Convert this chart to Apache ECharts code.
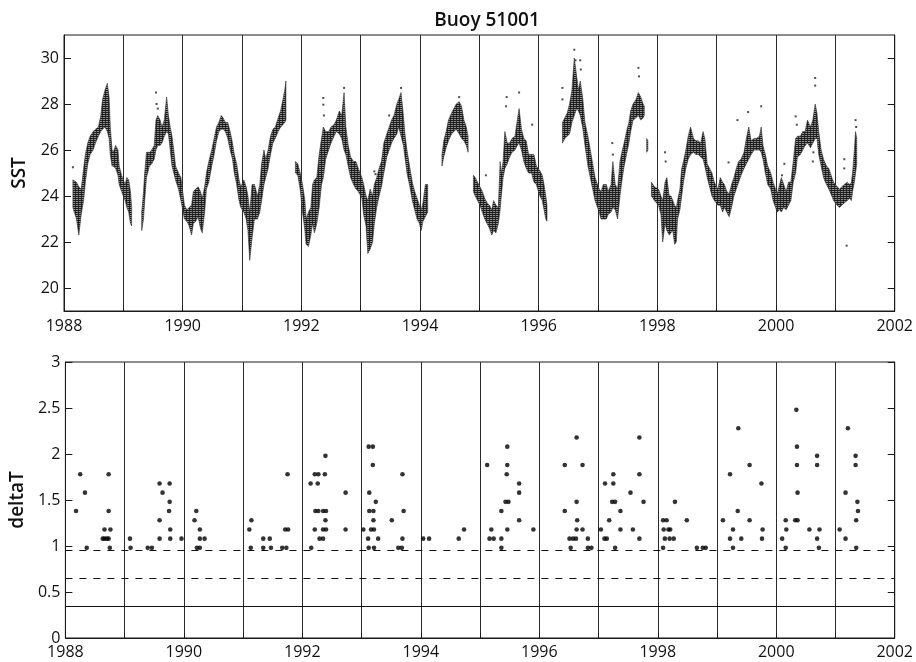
<!DOCTYPE html>
<html>
<head>
<meta charset="utf-8">
<script src="https://cdn.jsdelivr.net/npm/echarts@6/dist/echarts.min.js"></script>
<style>html,body{margin:0;padding:0;background:#fff}#c{width:916px;height:662px}</style>
</head>
<body>
<div id="c"></div>
<script>
// ---------- DATA ----------
// SST: envelope of the dense hourly record (year, low, high); null separates data gaps
const sstYear = [
1988.15,1988.21,1988.25,1988.29,1988.33,1988.36,1988.40,1988.44,1988.49,1988.53,1988.58,1988.62,1988.65,1988.69,1988.73,1988.76,1988.78,1988.81,1988.83,1988.87,1988.91,1988.93,1988.97,1989.03,1989.06,1989.09,1989.12,1989.14,null,
1989.31,1989.34,1989.36,1989.39,1989.44,1989.48,1989.52,1989.55,1989.58,1989.62,1989.65,1989.69,1989.73,1989.76,1989.79,1989.82,1989.85,1989.88,1989.93,1989.97,1990.03,1990.07,1990.11,1990.15,1990.18,1990.22,1990.26,1990.30,1990.33,1990.37,1990.40,1990.44,1990.49,1990.53,1990.57,1990.61,1990.65,1990.68,1990.72,1990.76,1990.80,1990.84,1990.87,1990.91,1990.95,1990.98,1991.03,1991.07,1991.10,1991.13,1991.17,1991.21,1991.26,1991.30,1991.33,1991.37,1991.40,1991.44,1991.48,1991.52,1991.56,1991.61,1991.65,1991.69,1991.72,1991.74,null,
1991.90,1991.94,1991.98,1992.02,1992.06,1992.08,1992.12,1992.16,1992.19,1992.22,1992.26,1992.30,1992.34,1992.37,1992.41,1992.46,1992.50,1992.55,1992.59,1992.64,1992.68,1992.72,1992.75,1992.79,1992.83,1992.88,1992.92,1992.96,1993.02,1993.05,1993.09,1993.12,1993.16,1993.20,1993.23,1993.27,1993.31,1993.35,1993.39,1993.44,1993.48,1993.52,1993.56,1993.61,1993.64,1993.68,1993.72,1993.75,1993.78,1993.83,1993.87,1993.91,1993.95,1993.99,1994.02,1994.05,1994.09,1994.13,null,
1994.37,1994.40,1994.44,1994.48,1994.53,1994.57,1994.61,1994.66,1994.70,1994.74,1994.78,1994.81,null,
1994.90,1994.93,1994.97,1995.01,1995.05,1995.09,1995.13,1995.17,1995.21,1995.24,1995.28,1995.32,1995.35,1995.37,1995.40,1995.43,1995.47,1995.51,1995.55,1995.60,1995.64,1995.67,1995.71,1995.75,1995.79,1995.83,1995.88,1995.92,1995.96,1996.02,1996.06,1996.09,1996.12,1996.14,null,
1996.40,1996.44,1996.48,1996.52,1996.56,1996.60,1996.64,1996.67,1996.70,1996.74,1996.78,1996.83,1996.87,1996.91,1996.95,1997.02,1997.05,1997.09,1997.14,1997.17,1997.22,1997.25,1997.29,1997.33,1997.37,1997.41,1997.44,1997.48,1997.52,1997.55,1997.59,1997.64,1997.68,1997.72,1997.76,1997.78,null,
1997.82,1997.84,null,
1997.90,1997.95,1998.02,1998.06,1998.09,1998.13,1998.16,1998.20,1998.23,1998.26,1998.29,1998.32,1998.34,1998.38,1998.41,1998.44,1998.48,1998.52,1998.56,1998.61,1998.65,1998.69,1998.73,1998.77,1998.80,1998.84,1998.88,1998.92,1998.96,1999.02,1999.06,1999.10,1999.13,1999.17,1999.21,1999.25,1999.29,1999.33,1999.37,1999.41,1999.46,1999.50,1999.54,1999.58,1999.63,1999.67,1999.72,1999.75,1999.78,1999.82,1999.86,1999.91,1999.95,2000.02,2000.06,2000.09,2000.13,2000.17,2000.21,2000.25,2000.29,2000.33,2000.36,2000.41,2000.45,2000.49,2000.53,2000.58,2000.62,2000.66,2000.69,2000.72,2000.76,2000.80,2000.85,2000.89,2000.94,2000.97,2001.03,2001.07,2001.11,2001.15,2001.20,2001.24,2001.27,2001.29,2001.32,2001.34,2001.36
];
const sstLow = [
23.5,23.0,22.3,23.2,23.8,24.6,25.4,25.8,26.0,26.3,26.6,26.8,26.9,27.0,26.8,26.5,25.8,25.3,25.3,25.2,24.9,24.5,24.2,23.8,23.5,23.3,22.8,22.7,null,
22.5,23.0,23.8,24.8,25.3,25.4,25.6,26.0,26.2,26.2,26.3,26.6,26.8,26.7,26.0,25.3,25.0,24.7,24.3,23.8,23.0,22.9,22.7,22.3,22.8,22.9,23.1,22.6,22.4,23.3,24.3,24.6,25.3,25.8,26.4,26.8,26.9,26.9,26.8,26.5,26.0,25.6,25.0,24.5,23.8,23.5,23.3,23.0,22.5,21.2,22.2,23.0,23.0,23.3,23.8,24.5,24.8,25.2,25.8,26.3,26.5,26.8,27.0,27.1,27.2,27.3,null,
25.0,24.9,24.3,23.3,22.5,21.9,21.8,22.3,22.8,22.4,22.8,23.5,24.5,24.8,25.6,26.0,26.3,26.6,26.8,26.7,26.5,26.0,25.8,25.3,24.8,24.5,24.3,24.2,23.9,23.2,22.7,21.5,21.7,22.0,22.8,23.5,24.0,24.4,25.0,25.7,26.0,26.3,26.5,26.7,27.0,26.6,26.2,25.6,25.0,24.4,23.8,23.4,23.0,22.8,22.5,22.9,23.1,23.3,null,
25.3,25.7,26.1,26.4,26.7,26.8,26.9,26.7,26.5,26.4,26.2,25.9,null,
24.2,24.0,23.8,23.6,23.3,23.0,22.8,22.6,22.3,22.5,22.4,22.8,23.4,24.0,24.8,25.2,25.4,25.7,25.9,26.0,26.2,26.3,26.0,25.5,25.2,25.0,25.0,24.6,24.5,24.0,23.8,23.4,23.0,22.9,null,
26.3,26.5,26.6,26.7,27.2,27.5,27.8,27.7,27.5,27.0,26.2,25.3,24.8,24.3,23.8,23.3,23.0,23.0,23.0,23.2,23.3,23.5,23.4,23.0,24.0,24.8,25.3,25.8,26.3,26.8,27.3,27.4,27.5,27.3,27.4,27.5,null,
25.9,26.0,null,
24.0,23.8,23.6,23.2,22.0,22.8,22.5,22.3,22.4,22.5,21.9,22.0,23.0,23.4,24.0,24.6,25.2,25.6,25.8,25.9,25.8,25.8,25.7,25.6,25.3,24.8,24.4,24.0,23.8,23.6,23.6,23.3,23.5,23.3,23.1,23.5,24.0,24.3,24.6,24.9,25.2,25.4,25.6,25.8,26.0,26.0,26.0,25.9,25.6,25.0,24.5,24.3,23.8,23.3,23.4,23.3,23.5,23.4,23.6,23.8,24.6,25.0,25.7,25.8,26.0,26.2,26.3,26.1,26.3,26.5,26.5,25.8,25.3,24.8,24.5,24.3,24.0,23.8,23.6,23.5,23.6,23.7,23.8,23.9,23.8,24.2,24.6,25.0,25.4
];
const sstHigh = [
24.7,24.6,24.4,24.3,25.2,25.8,26.3,26.6,26.8,26.9,27.0,27.5,28.2,28.6,28.9,28.3,27.0,26.0,25.9,26.2,26.0,25.3,24.9,24.5,24.8,24.7,24.2,23.5,null,
23.3,24.2,25.0,25.9,25.9,26.0,26.2,27.3,27.5,27.3,27.0,27.3,28.3,27.5,27.0,26.6,26.0,25.3,25.0,24.8,23.6,23.4,23.5,23.6,24.2,24.3,24.4,24.2,23.9,24.4,25.0,25.5,26.0,26.5,27.0,27.2,27.5,27.4,27.2,27.2,26.8,26.3,25.8,25.4,24.7,24.4,24.7,24.4,24.0,23.3,24.5,24.5,24.0,24.5,25.4,26.0,25.6,26.0,26.6,26.9,27.0,27.4,27.7,28.2,28.6,29.0,null,
25.5,25.4,25.0,24.5,23.8,23.0,23.3,23.5,24.5,24.7,24.8,25.8,26.5,27.0,26.8,26.8,27.0,27.1,27.3,27.7,27.5,28.5,27.0,26.2,25.7,25.5,25.5,25.2,24.8,24.5,24.0,23.8,24.3,24.0,24.5,24.8,25.2,25.5,26.3,26.7,27.0,27.3,27.5,28.0,28.2,28.5,27.5,26.6,26.0,25.2,24.6,24.2,23.9,23.6,23.4,23.7,24.5,24.5,null,
25.8,26.4,26.8,27.3,27.6,27.8,28.0,28.1,27.9,27.3,27.0,26.6,null,
24.9,24.8,24.6,24.4,24.2,23.9,23.7,23.6,23.4,23.8,23.6,23.5,25.5,25.0,25.5,26.8,26.3,26.3,26.5,26.6,27.3,27.8,26.9,26.5,26.4,25.8,25.8,25.8,25.3,25.1,24.9,24.5,24.0,23.6,null,
27.2,27.4,27.6,28.0,28.6,30.0,29.2,28.6,29.0,28.3,27.2,26.6,26.0,25.4,24.8,24.3,24.2,24.5,24.5,24.2,24.5,25.5,24.5,24.3,25.5,26.0,26.3,26.8,27.2,27.7,28.0,28.2,28.5,28.3,28.0,27.9,null,
26.5,26.4,null,
24.6,24.4,24.3,24.0,23.8,24.6,24.8,24.0,24.0,23.8,23.6,23.5,23.8,24.3,25.2,25.5,26.0,26.6,27.0,26.5,26.4,26.4,26.3,26.8,26.5,25.4,25.2,25.0,24.6,24.3,24.8,24.6,24.5,24.2,24.1,24.5,24.8,25.2,25.5,25.6,25.9,26.5,27.0,26.4,26.5,26.5,26.6,27.0,26.2,25.8,25.3,25.0,24.6,24.1,24.5,24.8,24.5,24.2,24.6,24.6,25.5,26.5,26.6,26.6,26.8,26.8,27.3,27.0,27.3,28.0,27.6,26.8,26.0,25.6,25.3,25.2,24.8,24.6,24.4,24.3,24.4,24.5,24.6,24.5,24.6,25.0,26.0,26.8,26.5
];
// isolated SST readings outside the main band
const outYear = [1988.15,1989.55,1989.56,1989.58,1992.37,1992.37,1992.38,1992.72,1993.23,1993.25,1993.48,1993.68,1994.66,1995.11,1995.46,1995.45,1995.67,1995.89,1996.40,1996.40,1996.60,1996.62,1996.70,1996.71,1997.24,1997.25,1997.68,1997.69,1998.13,1998.14,1999.20,1999.35,1999.53,1999.75,2000.14,2000.10,2000.33,2000.35,2000.62,2000.63,2000.66,2000.66,2001.15,2001.15,2001.19,2001.34,2001.35];
const outValue = [25.25,28.5,28.0,27.8,28.26,27.97,27.5,28.7,25.07,24.95,27.5,28.7,28.3,24.9,28.3,27.9,28.5,27.1,28.7,28.2,30.36,29.9,29.9,29.5,26.3,25.8,29.57,29.2,25.9,25.5,25.46,27.3,27.65,27.9,25.4,24.9,27.46,27.1,25.5,25.9,29.13,28.8,25.6,25.2,21.84,27.3,27.0];

// deltaT events
const dtYear = [
1988.18,1988.25,1988.33,1988.36,1988.63,1988.66,1988.70,1988.73,1988.66,1988.76,1988.73,1988.73,1988.75,
1989.09,1989.10,1989.39,1989.46,1989.59,1989.59,1989.59,1989.64,1989.76,1989.76,1989.75,1989.77,1989.77,1989.96,
1990.18,1990.21,1990.27,1990.27,1990.35,1990.22,1990.27,
1991.105,1991.14,1991.13,1991.34,1991.45,1991.34,1991.47,1991.66,1991.73,1991.71,1991.76,1991.75,
1992.15,1992.14,1992.21,1992.27,1992.26,1992.39,1992.38,1992.22,1992.27,1992.35,1992.40,1992.39,1992.21,1992.35,1992.40,1992.29,1992.35,1992.73,1992.73,
1993.03,1993.12,1993.19,1993.19,1993.13,1993.24,1993.13,1993.20,1993.20,1993.16,1993.21,1993.11,1993.28,1993.12,1993.21,1993.51,1993.69,1993.71,1993.69,1993.62,1993.68,
1994.04,1994.14,1994.64,1994.73,
1995.12,1995.19,1995.16,1995.23,1995.36,1995.36,1995.36,1995.46,1995.46,1995.45,1995.43,1995.48,1995.46,1995.66,1995.66,1995.66,1995.90,
1996.43,1996.43,1996.51,1996.57,1996.62,1996.53,1996.63,1996.63,1996.64,1996.63,1996.73,1996.73,1996.82,1996.82,1996.88,
1997.04,1997.10,1997.14,1997.11,1997.18,1997.25,1997.25,1997.23,1997.28,1997.28,1997.37,1997.37,1997.54,1997.58,1997.69,1997.69,1997.69,1997.76,
1998.09,1998.15,1998.10,1998.18,1998.21,1998.12,1998.20,1998.27,1998.09,1998.29,1998.49,1998.66,1998.76,1998.81,
1999.10,1999.22,1999.36,1999.35,1999.27,1999.22,1999.41,1999.27,1999.55,1999.55,1999.75,1999.77,1999.76,
2000.10,2000.16,2000.17,2000.16,2000.34,2000.35,2000.35,2000.36,2000.32,2000.36,2000.56,2000.69,2000.69,2000.69,2000.73,2000.72,
2001.07,2001.21,2001.17,2001.17,2001.34,2001.34,2001.37,2001.38,2001.35,2001.35
];
const dtValue = [
1.38,1.78,1.58,0.98,1.08,1.08,1.08,1.08,1.18,1.18,1.78,1.38,0.98,
1.08,0.98,0.98,0.98,1.68,1.28,1.08,1.58,1.68,1.48,1.38,1.18,1.08,1.08,
1.28,1.38,1.18,1.08,1.08,0.98,0.98,
1.18,1.28,0.98,1.08,1.08,0.98,0.98,0.98,0.98,1.18,1.18,1.78,
0.98,1.68,1.78,1.78,1.68,1.98,1.78,1.38,1.38,1.38,1.38,1.28,1.18,1.18,1.18,1.08,1.08,1.58,1.18,
1.18,2.08,2.08,1.88,1.58,1.48,1.38,1.38,1.28,1.18,1.18,1.08,1.08,0.98,0.98,1.28,1.78,1.38,1.08,0.98,0.98,
1.08,1.08,1.08,1.18,
1.88,1.18,1.08,1.08,1.38,1.08,0.98,2.08,1.88,1.78,1.48,1.48,1.18,1.68,1.58,1.28,1.18,
1.88,1.38,1.08,1.08,1.08,0.98,2.18,1.48,1.28,1.18,1.88,1.18,1.08,0.98,0.98,
1.18,1.08,1.08,1.68,1.28,1.78,1.68,1.48,1.48,0.98,1.38,1.18,1.58,1.18,2.18,1.78,1.08,1.48,
1.28,1.28,1.18,1.18,1.18,1.08,1.08,1.08,0.98,1.48,1.28,0.98,0.98,0.98,
1.28,1.78,2.28,1.38,1.18,1.08,1.08,0.98,1.88,1.28,1.68,1.18,1.08,
1.08,1.28,1.18,0.98,2.48,2.08,1.88,1.58,1.28,1.28,1.18,1.98,1.88,1.08,1.18,0.98,
1.18,2.28,1.58,1.08,1.98,1.88,1.48,1.38,1.28,0.98
];
// horizontal reference levels in the deltaT panel (first two dashed, last solid)
const dtLevels = [0.95, 0.65, 0.35];

// tick values
const sstTicks = [20, 22, 24, 26, 28, 30];

// ---------- BUILD ----------
const segs = [];
let start = null;
for (let i = 0; i <= sstYear.length; i++) {
  const v = i < sstYear.length ? sstYear[i] : null;
  if (v !== null && start === null) start = i;
  if (v === null && start !== null) { segs.push([start, i - 1]); start = null; }
}
const segData = segs.map((s, k) => {
  let lo = Infinity, hi = -Infinity;
  for (let i = s[0]; i <= s[1]; i++) { lo = Math.min(lo, sstLow[i]); hi = Math.max(hi, sstHigh[i]); }
  return [sstYear[s[0]], lo, sstYear[s[1]], hi, k];
});

// fill resembling densely packed dots (dark rows with light gaps)
const pc = document.createElement('canvas');
pc.width = 3; pc.height = 2;
const pctx = pc.getContext('2d');
pctx.fillStyle = '#8e8e8e'; pctx.fillRect(0, 0, 3, 2);
pctx.fillStyle = '#1c1c1c'; pctx.fillRect(0, 0, 3, 1);
pctx.fillStyle = '#2e2e2e'; pctx.fillRect(0, 1, 1, 1);
const pattern = { image: pc, repeat: 'repeat' };

const FONT = 'Open Sans';
const axisColor = '#1a1a1a';

function xAxisFor(gi, margin) {
  return {
    type: 'value', gridIndex: gi, min: 1988, max: 2002, interval: 1,
    axisLine: { show: true, lineStyle: { color: axisColor, width: 1 } },
    axisTick: { show: true, inside: true, length: 5, lineStyle: { color: axisColor } },
    axisLabel: { show: true, margin: margin, fontFamily: FONT, fontSize: 16, color: '#111',
      formatter: v => (v % 2 === 0 ? String(v) : '') },
    splitLine: { show: true, lineStyle: { color: '#2a2a2a', width: 1 } }
  };
}

const chart = echarts.init(document.getElementById('c'), null, { renderer: 'canvas' });
chart.setOption({
  animation: false,
  backgroundColor: '#fff',
  title: {
    text: 'Buoy 51001', left: 482, top: 6, textAlign: 'center',
    textStyle: { fontFamily: FONT, fontSize: 19, fontWeight: 600, color: '#111' }
  },
  grid: [
    { left: 64, right: 18, top: 35, height: 276, show: true, borderColor: axisColor, borderWidth: 1, backgroundColor: 'transparent' },
    { left: 64, right: 18, top: 362, height: 276, show: true, borderColor: axisColor, borderWidth: 1, backgroundColor: 'transparent' }
  ],
  xAxis: [ xAxisFor(0, 7), xAxisFor(1, 6) ],
  yAxis: [
    { type: 'value', gridIndex: 0, min: 19, max: 31,
      name: 'SST', nameLocation: 'middle', nameGap: 35, nameRotate: 90,
      nameTextStyle: { fontFamily: FONT, fontSize: 19, fontWeight: 600, color: '#111' },
      axisLine: { show: true, lineStyle: { color: axisColor } },
      axisTick: { show: true, inside: true, length: 7, customValues: sstTicks, lineStyle: { color: axisColor } },
      axisLabel: { show: true, margin: 5, customValues: sstTicks, fontFamily: FONT, fontSize: 16, color: '#111' },
      splitLine: { show: false } },
    { type: 'value', gridIndex: 0, min: 19, max: 31, position: 'right',
      axisLine: { show: true, lineStyle: { color: axisColor } },
      axisTick: { show: true, inside: true, length: 7, customValues: sstTicks, lineStyle: { color: axisColor } },
      axisLabel: { show: false, customValues: sstTicks },
      splitLine: { show: false } },
    { type: 'value', gridIndex: 1, min: 0, max: 3, interval: 0.5,
      name: 'deltaT', nameLocation: 'middle', nameGap: 35, nameRotate: 90,
      nameTextStyle: { fontFamily: FONT, fontSize: 19, fontWeight: 600, color: '#111' },
      axisLine: { show: true, lineStyle: { color: axisColor } },
      axisTick: { show: true, inside: true, length: 7, lineStyle: { color: axisColor } },
      axisLabel: { show: true, margin: 5, fontFamily: FONT, fontSize: 16, color: '#111' },
      splitLine: { show: false } },
    { type: 'value', gridIndex: 1, min: 0, max: 3, interval: 0.5, position: 'right',
      axisLine: { show: true, lineStyle: { color: axisColor } },
      axisTick: { show: true, inside: true, length: 7, lineStyle: { color: axisColor } },
      axisLabel: { show: false },
      splitLine: { show: false } }
  ],
  series: [
    {
      type: 'custom', name: 'SST', xAxisIndex: 0, yAxisIndex: 0,
      encode: { x: [0, 2], y: [1, 3] },
      data: segData,
      renderItem: function (params, api) {
        const s = segs[api.value(4)];
        const up = [], dn = [];
        for (let i = s[0]; i <= s[1]; i++) {
          up.push(api.coord([sstYear[i], sstHigh[i]]));
          dn.unshift(api.coord([sstYear[i], sstLow[i]]));
        }
        return { type: 'polygon', shape: { points: up.concat(dn) },
          style: { fill: pattern, stroke: '#333', lineWidth: 0.6 } };
      },
      silent: true, z: 3
    },
    {
      type: 'scatter', name: 'SST outliers', xAxisIndex: 0, yAxisIndex: 0,
      data: outYear.map((t, i) => [t, outValue[i]]),
      symbol: 'rect', symbolSize: 2, itemStyle: { color: '#222' }, silent: true, z: 4
    },
    {
      type: 'scatter', name: 'deltaT', xAxisIndex: 1, yAxisIndex: 2,
      data: dtYear.map((t, i) => [t, dtValue[i]]),
      symbol: 'circle', symbolSize: 4.6, itemStyle: { color: '#000' }, silent: true, z: 4,
      markLine: {
        silent: true, symbol: ['none', 'none'], label: { show: false },
        data: dtLevels.map((v, i) => ({ yAxis: v,
          lineStyle: { color: '#111', width: 1.1, type: i < 2 ? [7, 7] : 'solid' } }))
      }
    }
  ]
});
</script>
</body>
</html>
